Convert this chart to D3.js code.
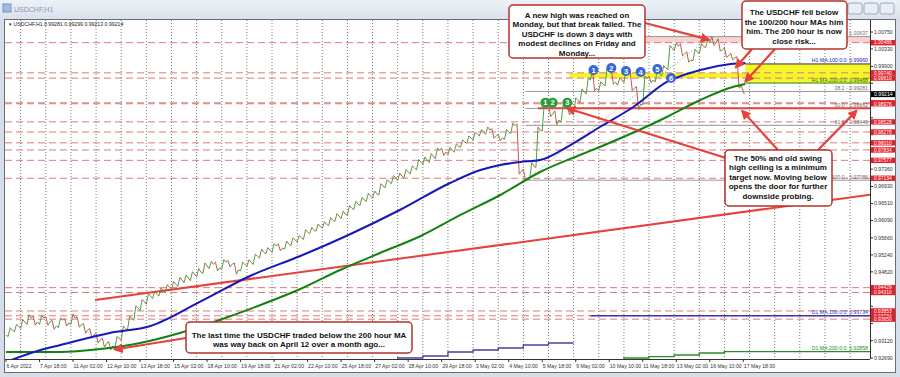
<!DOCTYPE html>
<html>
<head>
<meta charset="utf-8">
<script src="https://cdn.jsdelivr.net/npm/d3@7"></script>
<style>
  body { margin: 0; background: #fff; }
  svg { display: block; font-family: "Liberation Sans", Arial, sans-serif; }
</style>
</head>
<body>
<svg id="chart" width="900" height="377"></svg>
<script>
// ---------- values ----------
const symbol = "USDCHF,H1";
const ohlcText = "0.99281 0.99299 0.99213 0.99214";

// time axis: trading hours counted from 6 Apr 10:00, one label every 32 hours
const timeLabels = ["6 Apr 2022", "7 Apr 18:00", "11 Apr 02:00", "12 Apr 10:00", "13 Apr 18:00",
  "15 Apr 02:00", "18 Apr 10:00", "19 Apr 18:00", "21 Apr 02:00", "22 Apr 10:00", "25 Apr 18:00",
  "27 Apr 02:00", "28 Apr 10:00", "29 Apr 18:00", "3 May 02:00", "4 May 10:00", "5 May 18:00",
  "9 May 02:00", "10 May 10:00", "11 May 18:00", "13 May 02:00", "16 May 10:00", "17 May 18:00"];
const labelStepHours = 32;
const firstMidnight = 14;       // 7 Apr 00:00
const hoursShown = 825;

const priceTicks = [1.00750, 1.00330, 0.99900, 0.99480, 0.99060, 0.98630, 0.98210, 0.97790,
  0.97360, 0.96930, 0.96510, 0.96090, 0.95660, 0.95240, 0.94820, 0.94390, 0.93970, 0.93540,
  0.93120, 0.92690];

// 6-hour buckets: close, low, high
const closes = [0.9326, 0.9338, 0.9348, 0.9358, 0.9368, 0.9358, 0.9368, 0.9358, 0.9348, 0.9363,
  0.9356, 0.9368, 0.9351, 0.9338, 0.9326, 0.9314, 0.9304, 0.9299, 0.9318, 0.9343,
  0.9368, 0.9393, 0.9408, 0.9422, 0.9427, 0.9437, 0.9445, 0.9452, 0.9462, 0.9467,
  0.9477, 0.9482, 0.9497, 0.9501, 0.9492, 0.9506, 0.9501, 0.9487, 0.9501, 0.9506,
  0.9521, 0.9531, 0.9536, 0.9546, 0.9541, 0.9551, 0.9561, 0.9566, 0.9581, 0.9586,
  0.9595, 0.9600, 0.9610, 0.9620, 0.9625, 0.9640, 0.9650, 0.9660, 0.9670, 0.9675,
  0.9694, 0.9704, 0.9714, 0.9719, 0.9729, 0.9739, 0.9754, 0.9759, 0.9768, 0.9783,
  0.9778, 0.9783, 0.9793, 0.9803, 0.9813, 0.9823, 0.9828, 0.9833, 0.9818, 0.9813,
  0.9828, 0.9843, 0.9729, 0.9712, 0.9744, 0.9833, 0.9892, 0.9872, 0.9857, 0.9887,
  0.9877, 0.9907, 0.9927, 0.9956, 0.9936, 0.9946, 0.9976, 0.9951, 0.9956, 0.9971,
  0.9936, 0.9897, 0.9961, 0.9956, 0.9971, 0.9986, 1.0035, 1.0040, 1.0021, 1.0006,
  1.0026, 1.0040, 1.0050, 1.0048, 1.0031, 1.0016, 1.0011, 0.9942];
const lows = [0.9318, 0.9322, 0.9334, 0.9342, 0.9352, 0.9350, 0.9352, 0.9350, 0.9340, 0.9344,
  0.9348, 0.9352, 0.9345, 0.9330, 0.9318, 0.9306, 0.9296, 0.9289, 0.9292, 0.9312,
  0.9338, 0.9362, 0.9386, 0.9402, 0.9416, 0.9422, 0.9432, 0.9440, 0.9446, 0.9455,
  0.9460, 0.9470, 0.9478, 0.9490, 0.9484, 0.9488, 0.9494, 0.9476, 0.9484, 0.9495,
  0.9500, 0.9516, 0.9526, 0.9530, 0.9534, 0.9538, 0.9546, 0.9556, 0.9562, 0.9576,
  0.9582, 0.9590, 0.9596, 0.9606, 0.9614, 0.9622, 0.9636, 0.9646, 0.9656, 0.9664,
  0.9672, 0.9690, 0.9700, 0.9708, 0.9714, 0.9724, 0.9734, 0.9748, 0.9752, 0.9762,
  0.9770, 0.9772, 0.9778, 0.9790, 0.9800, 0.9808, 0.9818, 0.9822, 0.9812, 0.9806,
  0.9810, 0.9824, 0.9724, 0.97086, 0.9710, 0.9740, 0.9830, 0.9866, 0.9846, 0.9852,
  0.9870, 0.9872, 0.9900, 0.9922, 0.9930, 0.9930, 0.9942, 0.9946, 0.9944, 0.9950,
  0.9930, 0.98822, 0.9895, 0.9950, 0.9952, 0.9966, 0.9982, 1.0030, 1.0016, 1.0000,
  1.0004, 1.0022, 1.0036, 1.0042, 1.0028, 1.0012, 1.0006, 0.9936];
const highs = [0.9334, 0.9344, 0.9352, 0.9364, 0.9376, 0.9372, 0.9374, 0.9371, 0.9362, 0.9368,
  0.9366, 0.9378, 0.9370, 0.9354, 0.9342, 0.9330, 0.9318, 0.9310, 0.9322, 0.9348,
  0.9372, 0.9398, 0.9414, 0.9428, 0.9434, 0.9442, 0.9450, 0.9458, 0.9468, 0.9474,
  0.9482, 0.9490, 0.9504, 0.9508, 0.9506, 0.9512, 0.9510, 0.9504, 0.9506, 0.9512,
  0.9526, 0.9538, 0.9542, 0.9552, 0.9551, 0.9558, 0.9566, 0.9572, 0.9586, 0.9592,
  0.9600, 0.9606, 0.9616, 0.9626, 0.9632, 0.9646, 0.9656, 0.9666, 0.9676, 0.9682,
  0.9700, 0.9710, 0.9720, 0.9726, 0.9735, 0.9744, 0.9760, 0.9766, 0.9774, 0.9788,
  0.9788, 0.9790, 0.9798, 0.9808, 0.9818, 0.9828, 0.9834, 0.9840, 0.9836, 0.9822,
  0.9834, 0.9850, 0.9848, 0.9736, 0.9752, 0.9840, 0.9900, 0.9898, 0.9880, 0.9895,
  0.9892, 0.9912, 0.9934, 0.9962, 0.9982, 0.9952, 0.9986, 0.9980, 0.9962, 0.9982,
  0.9976, 0.9940, 0.9966, 0.9966, 0.9984, 0.9992, 1.0042, 1.0048, 1.0046, 1.0026,
  1.0032, 1.0046, 1.0056, 1.00637, 1.0058, 1.0036, 1.0022, 1.0014];
const closeStep = 6;
const lastHour = 705;
const lastPrice = 0.99214;

// hourly moving averages
const ma100Hours = [0, 33, 52, 99, 138, 185, 233, 281, 329, 376, 424, 453, 472, 491, 510, 539, 567, 599, 631, 663, 692, 706];
const ma100 = [0.92591, 0.92888, 0.93011, 0.93308, 0.93481, 0.94075, 0.94717, 0.95212, 0.95756, 0.96349,
  0.97017, 0.97338, 0.97462, 0.97536, 0.97585, 0.97956, 0.98401, 0.98896, 0.99514, 0.99811, 0.99959, 0.99984];
const ma200Hours = [0, 52, 90, 128, 166, 204, 243, 281, 319, 357, 396, 434, 472, 510, 548, 567, 631, 663, 694, 706];
const ma200 = [0.92838, 0.92838, 0.92912, 0.93061, 0.93308, 0.93629, 0.94000, 0.94396, 0.94866, 0.95286,
  0.95706, 0.96226, 0.96720, 0.97289, 0.97709, 0.97907, 0.98648, 0.99069, 0.99390, 0.99464];

// trend line and fibonacci swing
const trendHours = [85, 825];
const trendPrices = [0.94124, 0.96727];
const fibLowHour = 496, fibLow = 0.97086;
const fibHighHour = 673, fibHigh = 1.00637;
const fibLevels = [0, 38.2, 50, 61.8, 100];
const fibLabels = ["0.0 - 1.00637", "38.2 - 0.99281", "50.0 - 0.98862", "61.8 - 0.98443", "100.0 - 0.97086"];

// horizontal levels (dashed) with their red price tags
const levels = [1.00486, 0.99740, 0.99610, 0.98999, 0.98976, 0.98528, 0.98278, 0.98010, 0.97834,
  0.97577, 0.97134, 0.94429, 0.94310, 0.93853, 0.93734, 0.93650];
const ceiling = 0.98863, ceilingStart = 508;
const ma100Now = 0.99960, ma200Now = 0.99488;
const topBand = [1.00486, 1.00637];
const bandStartHour = 610;
const yellowLow = [0.99610, 0.99740], yellowLowStart = 538;
const yellowHighStart = 706;

// numbered touches
const greenHours = [515, 522, 536];
const greenPrices = [0.98999, 0.98999, 0.98999];
const blueHours = [561, 578, 592, 606, 622, 635];
const bluePrices = [0.99810, 0.99860, 0.99786, 0.99761, 0.99835, 0.99613];

// daily MAs drawn on the hourly chart (one step per day)
const d1ma100Hours = [350, 374, 398, 422, 446, 470, 494, 518, 542];
const d1ma100Steps = [0.92640, 0.92690, 0.92739, 0.92838, 0.92888, 0.92937, 0.93011, 0.93061, 0.93061];
const d1ma100Now = 0.93734, d1ma100NowStart = 558;
const d1ma200Hours = [566, 590, 614, 638, 662, 686, 825];
const d1ma200Steps = [0.92623, 0.92690, 0.92722, 0.92764, 0.92814, 0.92846, 0.92846];

// ---------- drawing ----------
const svg = d3.select("#chart");
const plotL = 5, plotR = 870, plotT = 20, plotB = 359;

const x = d3.scaleLinear().domain([0, hoursShown]).range([6, plotR]);
const y = d3.scaleLinear().domain([0.92690, 1.00750]).range([358, 32]);

const red = "#e8403a";
const small = 5.2;

// window frame
const defs = svg.append("defs");
const grad = defs.append("linearGradient").attr("id", "title").attr("x1", 0).attr("y1", 0).attr("x2", 0).attr("y2", 1);
grad.append("stop").attr("offset", 0).attr("stop-color", "#eef2f7");
grad.append("stop").attr("offset", 1).attr("stop-color", "#d9e1ec");
svg.append("rect").attr("width", 900).attr("height", 377).attr("fill", "#d6dee9");
svg.append("rect").attr("width", 900).attr("height", 19).attr("fill", "url(#title)");
svg.append("rect").attr("x", 3).attr("y", 4).attr("width", 8).attr("height", 8).attr("fill", "#9dbde0").attr("stroke", "#7095c0");
svg.append("text").attr("x", 14).attr("y", 11.5).attr("font-size", 7).attr("fill", "#8a97a8").text(symbol);
svg.selectAll(".btn").data([0, 1, 2]).enter().append("rect")
  .attr("x", d => 848 + d * 16).attr("y", 3).attr("width", 14).attr("height", 11).attr("rx", 2)
  .attr("fill", "#e9eef5").attr("stroke", "#9aa8ba");
svg.append("rect").attr("x", 4.5).attr("y", 19.5).attr("width", 891).attr("height", 353).attr("fill", "#fff").attr("stroke", "#6d6d6d");

defs.append("clipPath").attr("id", "plot").append("rect")
  .attr("x", plotL).attr("y", plotT).attr("width", plotR - plotL).attr("height", plotB - plotT);
defs.append("marker").attr("id", "arrow").attr("viewBox", "0 0 10 10").attr("refX", 8).attr("refY", 5)
  .attr("markerWidth", 4.5).attr("markerHeight", 4.5).attr("orient", "auto-start-reverse")
  .append("path").attr("d", "M0,0L10,5L0,10z").attr("fill", red);

const g = svg.append("g").attr("clip-path", "url(#plot)");

// daily grid
const midnights = d3.range(firstMidnight, hoursShown, 24);
g.selectAll(".vgrid").data(midnights).enter().append("line")
  .attr("x1", d => x(d)).attr("x2", d => x(d)).attr("y1", plotT).attr("y2", plotB)
  .attr("stroke", "#555").attr("stroke-dasharray", "1,2").attr("stroke-width", 0.8);

// shaded zones
g.append("rect").attr("x", x(bandStartHour)).attr("width", plotR - x(bandStartHour))
  .attr("y", y(topBand[1])).attr("height", y(topBand[0]) - y(topBand[1])).attr("fill", "#f7d2d2");
g.append("rect").attr("x", x(yellowLowStart)).attr("width", plotR - x(yellowLowStart))
  .attr("y", y(yellowLow[1])).attr("height", y(yellowLow[0]) - y(yellowLow[1])).attr("fill", "#f5f52c");
g.append("rect").attr("x", x(yellowHighStart)).attr("width", plotR - x(yellowHighStart))
  .attr("y", y(ma100Now)).attr("height", y(ma200Now) - y(ma100Now)).attr("fill", "#f5f52c");
g.append("line").attr("x1", x(yellowHighStart)).attr("x2", plotR).attr("y1", y(ma100Now)).attr("y2", y(ma100Now))
  .attr("stroke", "#333").attr("stroke-width", 1);
g.append("line").attr("x1", x(yellowHighStart)).attr("x2", plotR).attr("y1", y(ma200Now)).attr("y2", y(ma200Now))
  .attr("stroke", "#2a8a2a").attr("stroke-width", 1);

// dashed levels
g.selectAll(".lvl").data(levels).enter().append("line")
  .attr("x1", plotL).attr("x2", plotR).attr("y1", d => y(d)).attr("y2", d => y(d))
  .attr("stroke", "#dc7b7b").attr("stroke-width", 1).attr("stroke-dasharray", "7,4");

// fibonacci
const fibPrice = l => fibHigh - (fibHigh - fibLow) * l / 100;
g.selectAll(".fib").data(fibLevels).enter().append("line")
  .attr("x1", x(fibLowHour)).attr("x2", plotR).attr("y1", d => y(fibPrice(d))).attr("y2", d => y(fibPrice(d)))
  .attr("stroke", "#8c8c8c").attr("stroke-width", 0.9);
g.append("line").attr("x1", x(fibLowHour)).attr("y1", y(fibLow)).attr("x2", x(fibHighHour)).attr("y2", y(fibHigh))
  .attr("stroke", "#999").attr("stroke-dasharray", "1,2");
g.selectAll(".fibl").data(fibLabels).enter().append("text")
  .attr("x", plotR - 2).attr("y", (d, i) => y(fibPrice(fibLevels[i])) - 1.5)
  .attr("text-anchor", "end").attr("font-size", small).attr("fill", "#707070").text(d => d);

// ceiling
g.append("line").attr("x1", x(ceilingStart)).attr("x2", plotR).attr("y1", y(ceiling)).attr("y2", y(ceiling))
  .attr("stroke", red).attr("stroke-width", 2);

// trend line
g.append("line").attr("x1", x(trendHours[0])).attr("y1", y(trendPrices[0]))
  .attr("x2", x(trendHours[1])).attr("y2", y(trendPrices[1])).attr("stroke", red).attr("stroke-width", 2);

// daily MAs
const stepLine = d3.line().x(d => x(d[0])).y(d => y(d[1])).curve(d3.curveStepAfter);
g.append("path").attr("d", stepLine(d3.zip(d1ma100Hours, d1ma100Steps))).attr("fill", "none")
  .attr("stroke", "#4b3fa0").attr("stroke-width", 1.3);
g.append("line").attr("x1", x(d1ma100NowStart)).attr("x2", plotR).attr("y1", y(d1ma100Now)).attr("y2", y(d1ma100Now))
  .attr("stroke", "#3a3aa8").attr("stroke-width", 1.3);
g.append("path").attr("d", stepLine(d3.zip(d1ma200Hours, d1ma200Steps))).attr("fill", "none")
  .attr("stroke", "#2c8a2c").attr("stroke-width", 1.3);
g.append("text").attr("x", plotR - 2).attr("y", y(d1ma100Now) - 1.5).attr("text-anchor", "end")
  .attr("font-size", small).attr("fill", "#3a3aa8").text("D1 MA:100:0:0: 0.93734");
g.append("text").attr("x", plotR - 2).attr("y", y(d1ma200Steps[5]) - 1.5).attr("text-anchor", "end")
  .attr("font-size", small).attr("fill", "#2c8a2c").text("D1 MA:200:0:0: 0.92858");

// price: each 6-hour bucket walks through its low and high before its close
const up = "#45a445", down = "#c9574b";
const walk = [[0, closes[0]]];
closes.forEach((c, i) => {
  if (i === 0) return;
  const h = i * closeStep;
  const rising = c >= closes[i - 1];
  walk.push([h - 4, rising ? lows[i] : highs[i]], [h - 2, rising ? highs[i] : lows[i]], [h, c]);
});
walk.push([lastHour, lastPrice]);
g.selectAll(".px").data(d3.pairs(walk)).enter().append("line")
  .attr("x1", d => x(d[0][0])).attr("y1", d => y(d[0][1]))
  .attr("x2", d => x(d[1][0])).attr("y2", d => y(d[1][1]))
  .attr("stroke", d => d[1][1] >= d[0][1] ? up : down).attr("stroke-width", 1);

// hourly MAs
const maLine = d3.line().x(d => x(d[0])).y(d => y(d[1])).curve(d3.curveMonotoneX);
g.append("path").attr("d", maLine(d3.zip(ma200Hours, ma200))).attr("fill", "none")
  .attr("stroke", "#128312").attr("stroke-width", 2);
g.append("path").attr("d", maLine(d3.zip(ma100Hours, ma100))).attr("fill", "none")
  .attr("stroke", "#1818b8").attr("stroke-width", 2);
g.append("text").attr("x", plotR - 2).attr("y", y(ma100Now) - 1.5).attr("text-anchor", "end")
  .attr("font-size", small).attr("fill", "#1818b8").text("H1 MA:100:0:0: 0.99960");
g.append("text").attr("x", plotR - 2).attr("y", y(ma200Now) - 1.5).attr("text-anchor", "end")
  .attr("font-size", small).attr("fill", "#128312").text("H1 MA:200:0:0: 0.99488");

// numbered touches
const marks = greenHours.map((h, i) => ({h, p: greenPrices[i], n: i + 1, c: "#2b9a3a"}))
  .concat(blueHours.map((h, i) => ({h, p: bluePrices[i], n: i + 1, c: "#3a66d8"})));
const mg = g.selectAll(".mark").data(marks).enter().append("g")
  .attr("transform", d => `translate(${x(d.h)},${y(d.p)})`);
mg.append("circle").attr("r", 5).attr("fill", d => d.c);
mg.append("text").attr("y", 2.6).attr("text-anchor", "middle").attr("font-size", 7.5)
  .attr("font-weight", "bold").attr("fill", "#fff").text(d => d.n);

// axes frame
svg.append("line").attr("x1", plotR + 0.5).attr("x2", plotR + 0.5).attr("y1", plotT).attr("y2", plotB).attr("stroke", "#333");
svg.append("line").attr("x1", plotL).attr("x2", plotR).attr("y1", plotB + 0.5).attr("y2", plotB + 0.5).attr("stroke", "#333");
svg.append("text").attr("x", 9).attr("y", 26).attr("font-size", small).attr("fill", "#222")
  .text("\u25BE " + symbol + "  " + ohlcText);

// price axis (labels hidden under a tag are skipped)
const tagged = levels.concat([lastPrice]);
const freeTicks = priceTicks.filter(p => tagged.every(t => Math.abs(y(t) - y(p)) > 5.5));
const pa = svg.append("g");
pa.selectAll("line").data(priceTicks).enter().append("line")
  .attr("x1", plotR).attr("x2", plotR + 3).attr("y1", d => y(d)).attr("y2", d => y(d)).attr("stroke", "#333");
pa.selectAll("text").data(freeTicks).enter().append("text")
  .attr("x", plotR + 4).attr("y", d => y(d) + 1.9).attr("font-size", small).attr("fill", "#333")
  .text(d => d.toFixed(5));
const tags = pa.selectAll(".tag").data(levels).enter().append("g").attr("transform", d => `translate(${plotR + 1},${y(d)})`);
tags.append("rect").attr("y", -2.7).attr("width", 24).attr("height", 5.4).attr("fill", "#e3202a");
tags.append("text").attr("x", 3).attr("y", 1.8).attr("font-size", 4.9).attr("fill", "#fff").text(d => d.toFixed(5));
const now = pa.append("g").attr("transform", `translate(${plotR + 1},${y(lastPrice)})`);
now.append("rect").attr("y", -3).attr("width", 24).attr("height", 6).attr("fill", "#000");
now.append("text").attr("x", 3).attr("y", 1.9).attr("font-size", small).attr("fill", "#fff").text(lastPrice.toFixed(5));

// time axis
const ta = svg.append("g");
ta.selectAll("line").data(timeLabels).enter().append("line")
  .attr("x1", (d, i) => x(i * labelStepHours)).attr("x2", (d, i) => x(i * labelStepHours))
  .attr("y1", plotB).attr("y2", plotB + 3).attr("stroke", "#333");
ta.selectAll("text").data(timeLabels).enter().append("text")
  .attr("x", (d, i) => x(i * labelStepHours) + 0.5).attr("y", plotB + 8.5).attr("font-size", small).attr("fill", "#333")
  .text(d => d);

// annotation boxes
const notes = [
  {x: 509, y: 5, w: 136, h: 53, cx: 577, y0: 18, lines: ["A new high was reached on", "Monday, but that break failed. The",
    "USDCHF is down 3 days with", "modest declines on Friday and", "Monday..."]},
  {x: 742, y: 1, w: 105, h: 48, cx: 794, y0: 15.3, lines: ["The USDCHF fell below", "the 100/200 hour MAs him",
    "him. The 200 hour is now", "close risk..."]},
  {x: 725, y: 150, w: 107, h: 56, cx: 778, y0: 161, lines: ["The 50% and old swing", "high ceiling is a minimum",
    "target now. Moving below", "opens the door for further", "downside probing."]},
  {x: 186, y: 322, w: 226, h: 31, cx: 299, y0: 338, lines: ["The last time the USDCHF traded below the 200 hour MA",
    "was way back on April 12 over a month ago..."]}
];

// arrows: tail at a box edge, head at a chart point
const arrows = [
  {x0: 645, y0: 23, h: 671, p: 1.00560},
  {x0: 752, y0: 49, h: 697, p: 0.99880},
  {x0: 775, y0: 49, h: 706, p: 0.99530},
  {x0: 726, y0: 158, h: 536, p: 0.98863},
  {x0: 778, y0: 150, h: 703, p: 0.98800},
  {x0: 818, y0: 150, h: 812, p: 0.98800},
  {x0: 186, y0: 338, h: 104, p: 0.92900}
];
svg.selectAll(".arr").data(arrows).enter().append("line")
  .attr("x1", d => d.x0).attr("y1", d => d.y0).attr("x2", d => x(d.h)).attr("y2", d => y(d.p))
  .attr("stroke", red).attr("stroke-width", 2.2).attr("marker-end", "url(#arrow)");

const ng = svg.selectAll(".note").data(notes).enter().append("g");
ng.append("rect").attr("x", d => d.x).attr("y", d => d.y).attr("width", d => d.w).attr("height", d => d.h)
  .attr("rx", 4).attr("fill", "#fff").attr("stroke", "#b5322c").attr("stroke-width", 1.5);
ng.each(function (d) {
  d3.select(this).selectAll("text").data(d.lines).enter().append("text")
    .attr("x", d.cx).attr("y", (t, i) => d.y0 + i * 9.4).attr("text-anchor", "middle")
    .attr("font-size", 8).attr("font-weight", "bold").attr("fill", "#111").text(t => t);
});
</script>
</body>
</html>
